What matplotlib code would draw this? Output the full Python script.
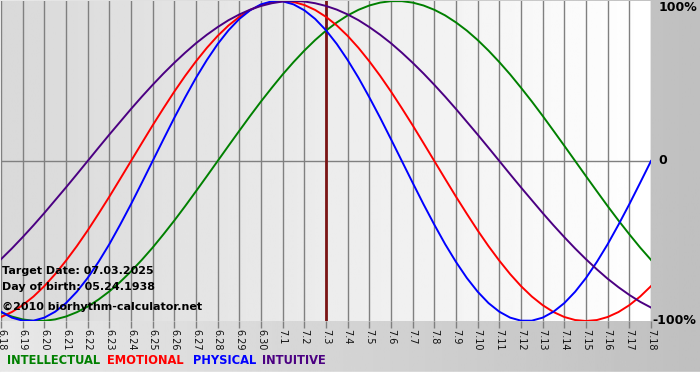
import numpy as np
import matplotlib.pyplot as plt

# days shown on the chart
dates = ['6.18', '6.19', '6.20', '6.21', '6.22', '6.23', '6.24', '6.25', '6.26', '6.27',
         '6.28', '6.29', '6.30', '7.1', '7.2', '7.3', '7.4', '7.5', '7.6', '7.7',
         '7.8', '7.9', '7.10', '7.11', '7.12', '7.13', '7.14', '7.15', '7.16', '7.17', '7.18']
target_idx = 15  # 7.3

# values in percent, every half day (6.18 ... 7.18)
physical = [-94.2, -97.9, -99.8, -99.8, -97.9, -94.2, -88.8, -81.7, -73.1, -63.1, -52.0,
            -39.8, -27.0, -13.6, 0,
            13.6, 27.0, 39.8, 52.0, 63.1, 73.1, 81.7, 88.8, 94.2, 97.9, 99.8, 99.8,
            97.9, 94.2, 88.8, 81.7, 73.1, 63.1, 52.0, 39.8, 27.0, 13.6, 0,
            -13.6, -27.0, -39.8, -52.0, -63.1, -73.1, -81.7, -88.8, -94.2, -97.9, -99.8,
            -99.8, -97.9, -94.2, -88.8, -81.7, -73.1, -63.1, -52.0, -39.8, -27.0, -13.6, 0]
emotional = [-97.5, -94.4, -90.1, -84.7, -78.2, -70.7, -62.3, -53.2, -43.4, -33.0, -22.3,
             -11.2, 0,
             11.2, 22.3, 33.0, 43.4, 53.2, 62.3, 70.7, 78.2, 84.7, 90.1, 94.4, 97.5, 99.4,
             100, 99.4, 97.5, 94.4, 90.1, 84.7, 78.2, 70.7, 62.3, 53.2, 43.4, 33.0, 22.3,
             11.2, 0,
             -11.2, -22.3, -33.0, -43.4, -53.2, -62.3, -70.7, -78.2, -84.7, -90.1, -94.4,
             -97.5, -99.4, -100, -99.4, -97.5, -94.4, -90.1, -84.7, -78.2]
intellectual = [-94.5, -97.2, -99.0, -99.9, -99.9, -99.0, -97.2, -94.5, -91.0, -86.6, -81.5,
                -75.6, -69.0, -61.8, -54.1, -45.8, -37.2, -28.2, -18.9, -9.5, 0,
                9.5, 18.9, 28.2, 37.2, 45.8, 54.1, 61.8, 69.0, 75.6, 81.5, 86.6, 91.0,
                94.5, 97.2, 99.0, 99.9, 99.9, 99.0, 97.2, 94.5, 91.0, 86.6, 81.5, 75.6,
                69.0, 61.8, 54.1, 45.8, 37.2, 28.2, 18.9, 9.5, 0,
                -9.5, -18.9, -28.2, -37.2, -45.8, -54.1, -61.8]
intuitive = [-61.4, -54.7, -47.6, -40.2, -32.5, -24.5, -16.5, -8.3, 0,
             8.3, 16.5, 24.5, 32.5, 40.2, 47.6, 54.7, 61.4, 67.7, 73.6, 78.9, 83.7, 88.0,
             91.6, 94.6, 96.9, 98.6, 99.7, 100, 99.7, 98.6, 96.9, 94.6, 91.6, 88.0, 83.7,
             78.9, 73.6, 67.7, 61.4, 54.7, 47.6, 40.2, 32.5, 24.5, 16.5, 8.3, 0,
             -8.3, -16.5, -24.5, -32.5, -40.2, -47.6, -54.7, -61.4, -67.7, -73.6, -78.9,
             -83.7, -88.0, -91.6]

series = [('INTELLECTUAL', intellectual, '#008000'),
          ('EMOTIONAL', emotional, '#ff0000'),
          ('PHYSICAL', physical, '#0000ff'),
          ('INTUITIVE', intuitive, '#4b0082')]

W, H = 700, 380
fig = plt.figure(figsize=(W / 100, H / 100), dpi=100)

# outer background gradient
bg = fig.add_axes([0, 0, 1, 1], zorder=-10)
grad = np.linspace(0.91, 0.75, 256).reshape(1, -1)
bg.imshow(grad, cmap='gray', vmin=0, vmax=1, aspect='auto', extent=[0, 1, 0, 1])
bg.axhspan(0, 8 / H, color='white')
bg.set_xlim(0, 1)
bg.set_ylim(0, 1)
bg.axis('off')

# plot area
left, right, top, bottom = 1, 651, 1, 321
ax = fig.add_axes([left / W, 1 - bottom / H, (right - left) / W, (bottom - top) / H])
days = np.arange(len(dates))
xs = np.arange(len(physical)) / 2
ax.set_xlim(0, len(dates) - 1)
ax.set_ylim(-100, 100)

pgrad = np.linspace(0.85, 1.0, 256).reshape(1, -1)
ax.imshow(pgrad, cmap='gray', vmin=0, vmax=1, aspect='auto',
          extent=[0, len(dates) - 1, -100, 100], zorder=0)

for d in days:
    ax.axvline(d, color='#808080', lw=1.0, zorder=1)
ax.axhline(0, color='#808080', lw=1.0, zorder=1)
ax.axvline(target_idx, color='#7a1414', lw=2.0, zorder=2)

for name, vals, col in series:
    ax.plot(xs, vals, color=col, lw=1.4, zorder=3)

for s in ax.spines.values():
    s.set_visible(False)
ax.set_yticks([])
ax.set_xticks(days)
ax.set_xticklabels(dates, rotation=270, fontsize=7, family='DejaVu Sans', color='#111111')
ax.tick_params(axis='x', length=5, width=1, color='#808080', pad=1)

# labels on the right
ax.text(1.012, 0.98, '100%', transform=ax.transAxes, fontsize=9, fontweight='bold',
        ha='left', va='center')
ax.text(1.012, 0.5, '0', transform=ax.transAxes, fontsize=9, fontweight='bold',
        ha='left', va='center')
ax.text(1.002, 0.0, '-100%', transform=ax.transAxes, fontsize=9, fontweight='bold',
        ha='left', va='center')

# info text inside the plot
info = ['Target Date: 07.03.2025', 'Day of birth: 05.24.1938', '\u00a92010 biorhythm-calculator.net']
info_y = [271, 287, 307]
for txt, py in zip(info, info_y):
    ax.text(0.002, (161 - py) / 160 * 100, txt, fontsize=8, fontweight='bold',
            transform=ax.get_yaxis_transform(), ha='left', va='center', zorder=4)

# legend as coloured words
legend_x = [7, 107, 193, 262]
for (name, vals, col), lx in zip(series, legend_x):
    fig.text(lx / W, 1 - 361 / H, name, color=col, fontsize=8.3, fontweight='bold',
             ha='left', va='center')

fig.savefig('out.png', dpi=100)
